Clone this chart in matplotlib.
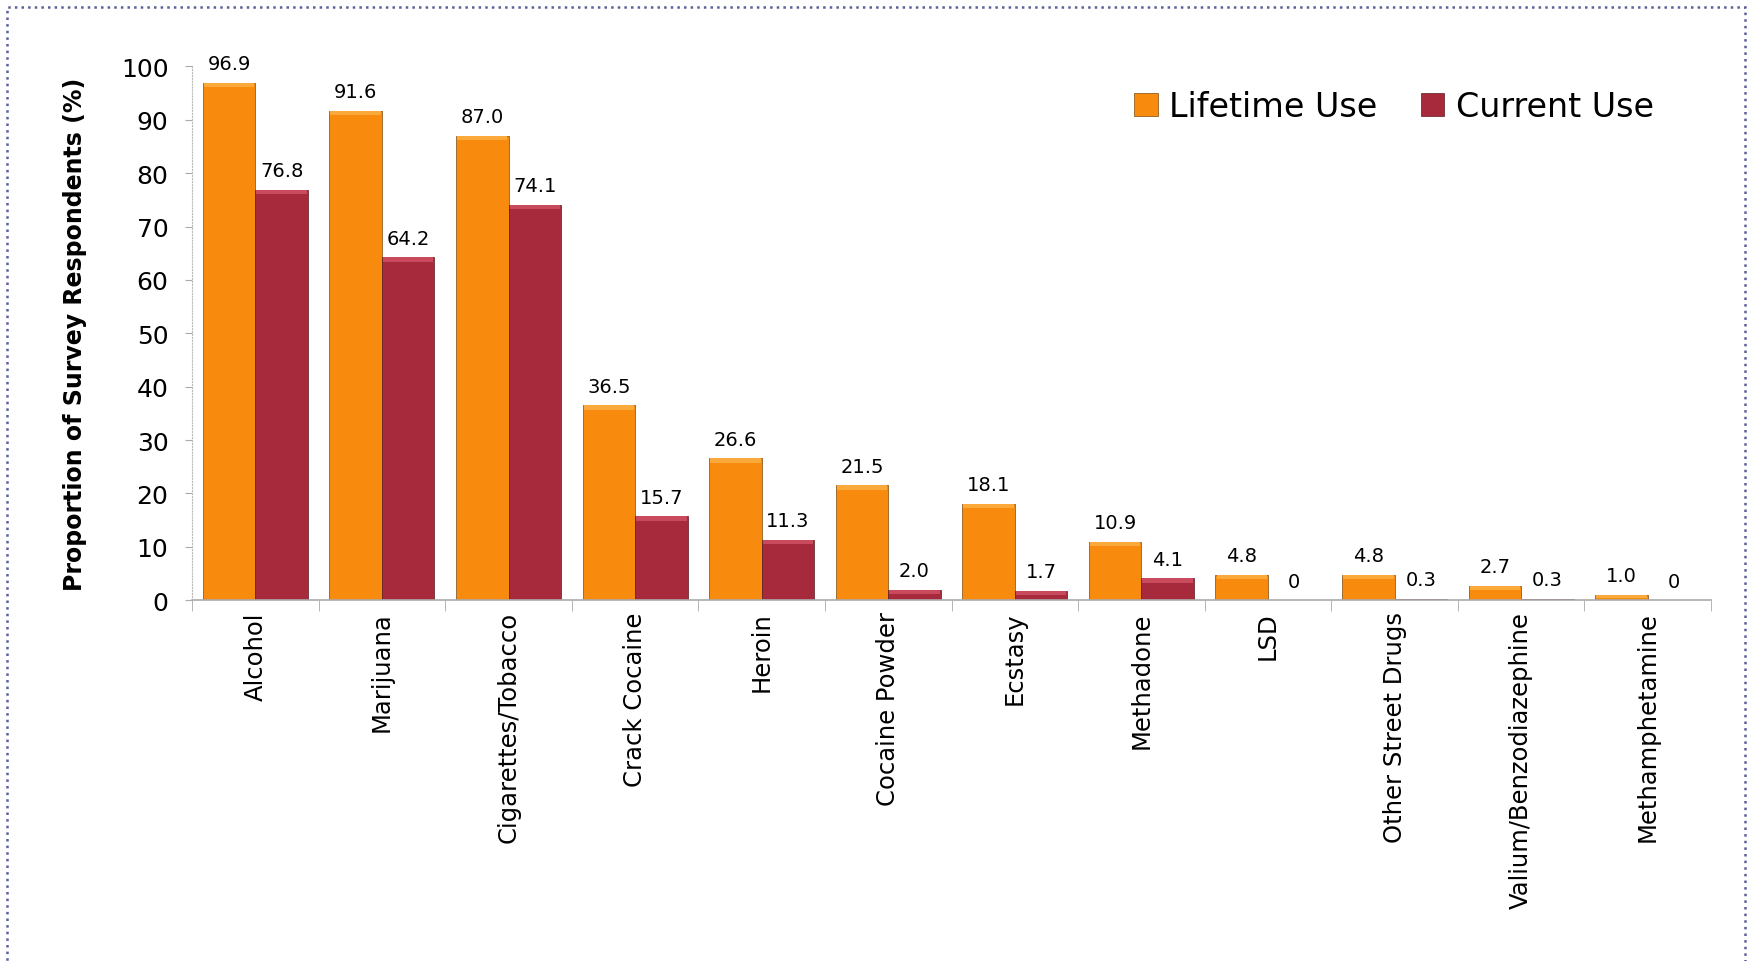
import matplotlib.pyplot as plt
import matplotlib.patches as mpatches
import numpy as np

plt.rcParams['font.family'] = ['DejaVu Sans']

# 数据
drugs = ['Alcohol', 'Marijuana', 'Cigarettes/Tobacco', 'Crack Cocaine', 'Heroin',
         'Cocaine Powder', 'Ecstasy', 'Methadone', 'LSD', 'Other Street Drugs',
         'Valium/Benzodiazephine', 'Methamphetamine']
lifetime = [96.9, 91.6, 87.0, 36.5, 26.6, 21.5, 18.1, 10.9, 4.8, 4.8, 2.7, 1.0]
current = [76.8, 64.2, 74.1, 15.7, 11.3, 2.0, 1.7, 4.1, 0, 0.3, 0.3, 0]

orange = '#F88A0E'
orange_top = '#FAA93A'
red = '#A62A3C'
red_top = '#C84A5C'

fig = plt.figure(figsize=(17.54, 9.62), dpi=100)
ax = fig.add_axes([0.1095, 0.375, 0.866, 0.555])

x = np.arange(len(drugs))
w = 0.415
b1 = ax.bar(x - w / 2, lifetime, w, color=orange, edgecolor='#7a4a10', linewidth=0.5, label='Lifetime Use')
b2 = ax.bar(x + w / 2, current, w, color=red, edgecolor='#5a1a22', linewidth=0.5, label='Current Use')

# 顶部高光，模仿立体效果
for xi, v in zip(x, lifetime):
    h = min(0.8, v * 0.5)
    ax.bar(xi - w / 2, h, w * 0.96, bottom=v - h, color=orange_top, linewidth=0)
for xi, v in zip(x, current):
    if v > 0:
        h = min(0.8, v * 0.5)
        ax.bar(xi + w / 2, h, w * 0.96, bottom=v - h, color=red_top, linewidth=0)

# 数值标签
for xi, v in zip(x, lifetime):
    ax.annotate(f'{v:.1f}', xy=(xi - w / 2, v), xytext=(0, 7), textcoords='offset points',
                ha='center', va='bottom', fontsize=14, annotation_clip=False)
for xi, v in zip(x, current):
    s = f'{v:.1f}' if v else '0'
    ax.annotate(s, xy=(xi + w / 2, v), xytext=(0, 7), textcoords='offset points',
                ha='center', va='bottom', fontsize=14, annotation_clip=False)

ax.set_xlim(-0.5, len(drugs) - 0.5)
ax.set_ylim(0, 100)
ax.set_yticks(np.arange(0, 101, 10))
ax.tick_params(axis='y', labelsize=18, length=5, color='#aaaaaa', pad=12)
ax.set_xticks(x)
ax.set_xticklabels(drugs, rotation=90, fontsize=17.5)
ax.tick_params(axis='x', length=0, pad=8)
ax.set_xticks(np.arange(-0.5, len(drugs), 1), minor=True)
ax.tick_params(axis='x', which='minor', length=8, color='#aaaaaa')

for s in ['top', 'right']:
    ax.spines[s].set_visible(False)
ax.spines['left'].set_color('#bbbbbb')
ax.spines['left'].set_linestyle(':')
ax.spines['bottom'].set_color('#aaaaaa')
ax.spines['bottom'].set_linewidth(1.2)

ax.set_ylabel('Proportion of Survey Respondents (%)', fontsize=17, fontweight='bold', labelpad=24)

leg = fig.legend(handles=[b1, b2], loc='center right', bbox_to_anchor=(0.96, 0.888),
                 ncol=2, frameon=False, fontsize=24, handlelength=0.7, handleheight=0.7,
                 handletextpad=0.35, columnspacing=1.3)

# 外框
frame = mpatches.Rectangle((0.004, -0.05), 0.991, 1.042, transform=fig.transFigure,
                           fill=False, edgecolor='#5a6098', linewidth=1.8, linestyle=':')
fig.patches.append(frame)

fig.savefig('out.png', dpi=100)
